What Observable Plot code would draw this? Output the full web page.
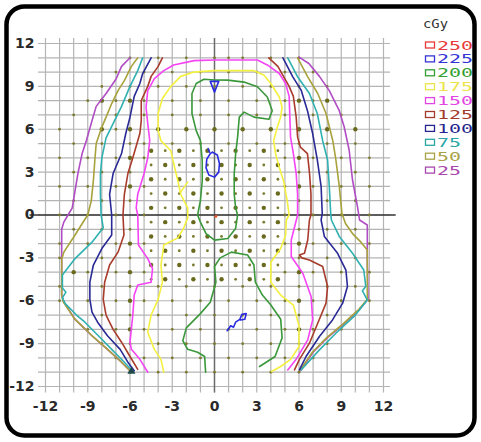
<!DOCTYPE html>
<html><head><meta charset="utf-8">
<script src="https://cdn.jsdelivr.net/npm/d3@7"></script>
<script src="https://cdn.jsdelivr.net/npm/@observablehq/plot@0.6"></script>
<style>body{margin:0;background:#fff}</style>
</head><body><div id="chart"></div>
<script>
// ---- tick labels / grid ----
const tickValues = [-12, -9, -6, -3, 0, 3, 6, 9, 12];
const gridValues = [-12,-11,-10,-9,-8,-7,-6,-5,-4,-3,-2,-1,0,1,2,3,4,5,6,7,8,9,10,11,12];

// ---- legend ----
const legendTitle = "cGy";
const levels = [250, 225, 200, 175, 150, 125, 100, 75, 50, 25];
const legendColors = ["#e83a3a","#3434d4","#34a034","#ece44a","#e444e4","#a33a2c","#26268e","#2aa6a6","#a8a246","#a848ac"];
const lineColors   = {250:"#f05020",225:"#2a2ae0",200:"#3a983a",175:"#f4f040",150:"#f444f4",125:"#a83c2c",100:"#2a2a96",75:"#30b0b0",50:"#a8a23c",25:"#b04cc4"};

// ---- isodose contours (x, y in cm) ----
const contour25 = [
  [[-6.0,11.0],[-6.6,10.4],[-7.0,9.5],[-7.7,8.5],[-8.4,7.6],[-8.7,6.6],[-9.1,5.2],[-9.4,4.3],[-9.7,2.9],[-9.9,1.7],[-10.1,0.5],[-10.4,0],[-10.7,-0.5],[-10.85,-1.0],[-10.85,-2.4],[-10.85,-4.0],[-10.85,-5.6],[-10.7,-6.1],[-9.9,-7.3],[-8.7,-8.45],[-7.6,-9.4],[-6.6,-10.3],[-5.9,-11.0]],
  [[6.0,11.05],[6.7,10.6],[7.45,9.7],[8.15,8.7],[8.86,7.3],[9.2,6.2],[9.56,4.55],[9.8,2.45],[10.15,0.6],[10.3,-0.35],[10.85,-0.7],[10.85,-3.0],[10.9,-5.9],[10.3,-6.6],[9.2,-7.6],[8.0,-8.6],[7.0,-9.6],[6.1,-10.9]]
];
const contour50 = [
  [[-5.45,11.0],[-5.9,10.4],[-6.4,9.4],[-6.85,8.7],[-7.3,7.8],[-7.7,6.85],[-8.0,6.15],[-8.4,5.0],[-8.5,3.8],[-8.6,2.4],[-8.75,1.0],[-9.0,0],[-9.2,-0.3],[-9.9,-1.4],[-10.7,-2.6],[-10.85,-3.1],[-10.85,-5.6],[-10.75,-6.05],[-9.95,-7.25],[-8.75,-8.4],[-7.65,-9.35],[-6.65,-10.25],[-5.95,-10.95]],
  [[5.9,11.0],[6.62,9.67],[7.33,8.5],[7.92,7.1],[8.4,5.2],[8.62,3.85],[8.86,2.0],[9.05,0.1],[9.3,-0.6],[9.8,-1.3],[10.4,-1.9],[10.85,-2.45],[10.85,-4.0],[10.85,-5.9],[10.25,-6.6],[9.15,-7.6],[7.95,-8.6],[6.95,-9.6],[6.05,-10.9]]
];
const contour75 = [
  [[-5.1,11.0],[-5.45,10.1],[-6.0,9.0],[-6.6,7.6],[-7.2,6.4],[-7.7,5.4],[-8.0,4.0],[-8.1,2.9],[-8.1,1.45],[-8.05,0],[-7.9,-0.9],[-8.7,-1.9],[-9.9,-3.05],[-10.8,-4.2],[-10.8,-5.1],[-10.55,-5.4],[-10.8,-5.8],[-10.6,-6.2],[-9.8,-7.0],[-9.2,-7.5],[-8.3,-8.4],[-7.3,-9.4],[-6.4,-10.3],[-5.8,-10.95]],
  [[5.2,11.0],[5.9,9.67],[6.74,8.5],[7.3,7.1],[7.68,5.2],[8.03,3.85],[8.15,2.0],[8.25,0.1],[8.3,-0.35],[8.86,-1.5],[9.8,-2.68],[10.6,-3.85],[10.74,-5.0],[10.5,-5.3],[10.85,-5.95],[10.0,-7.0],[8.62,-8.27],[7.45,-9.44],[6.15,-10.84]]
];
const contour100 = [
  [[-4.5,11.0],[-5.1,9.9],[-5.3,9.2],[-5.7,8.3],[-6.0,6.85],[-6.3,5.7],[-6.6,4.3],[-7.2,2.9],[-7.45,1.45],[-7.3,0],[-7.3,-1.4],[-8.0,-2.35],[-8.6,-3.5],[-8.85,-4.7],[-8.85,-5.9],[-8.7,-6.8],[-8.3,-7.5],[-7.6,-8.45],[-6.7,-9.4],[-6.15,-10.3],[-5.7,-10.9]],
  [[4.86,11.0],[5.56,9.67],[6.15,8.74],[6.6,7.3],[6.97,5.7],[7.3,3.85],[7.57,2.0],[7.65,0.1],[7.57,-0.35],[7.8,-1.5],[8.74,-2.68],[9.33,-3.85],[9.44,-5.0],[9.1,-6.17],[8.38,-7.34],[7.45,-8.5],[6.5,-9.9],[6.03,-10.84]]
];
const contour125 = [
  [[-3.7,11.0],[-4.0,10.4],[-4.5,9.7],[-4.74,9.0],[-5.2,8.0],[-5.2,6.6],[-5.3,5.7],[-5.8,4.0],[-6.15,2.9],[-6.4,1.45],[-6.5,0],[-6.43,-1.4],[-6.85,-2.6],[-7.45,-3.5],[-7.8,-4.7],[-7.9,-5.9],[-7.7,-7.0],[-7.2,-8.0],[-6.6,-8.9],[-6.0,-9.9],[-5.45,-10.8]],
  [[3.85,11.0],[4.5,10.4],[4.9,9.7],[5.3,9.0],[5.6,8.3],[5.8,6.85],[5.9,5.45],[6.1,4.75],[6.6,4.3],[6.75,2.9],[6.85,1.45],[6.85,0],[6.74,-0.35],[6.62,-1.75],[6.39,-2.68],[6.03,-2.8],[6.2,-3.0],[6.74,-3.15],[7.68,-3.6],[8.03,-5.0],[7.92,-6.17],[7.33,-7.57],[6.74,-8.97],[6.03,-10.1],[5.68,-10.84]]
];
const contour150 = [
  [[-4.74,-11.0],[-5.3,-10.1],[-5.9,-9.4],[-6.0,-8.9],[-5.8,-7.0],[-5.7,-5.6],[-5.45,-4.9],[-4.5,-4.7],[-4.4,-3.75],[-4.74,-3.05],[-5.4,-2.1],[-5.45,0],[-5.56,0.5],[-5.45,1.45],[-5.0,2.9],[-4.74,4.0],[-4.6,5.2],[-4.74,6.4],[-4.86,7.55],[-4.74,8.7],[-4.27,9.55],[-3.6,10.1],[-2.9,10.5],[-1.45,10.8],[0,10.85],[3.05,10.85],[3.75,10.5],[4.6,9.9],[5.05,9.2],[5.3,8.3],[5.35,6.85],[5.4,5.45],[5.6,4.3],[5.8,2.9],[5.9,1.45],[5.9,0],[5.45,-1.75],[5.45,-2.9],[6.27,-4.08],[6.86,-5.7],[6.97,-7.34],[6.62,-8.74],[5.8,-10.1],[5.2,-10.84]]
];
const contour175 = [
  [[-3.6,-11.0],[-3.8,-10.1],[-4.27,-9.4],[-4.74,-8.2],[-4.5,-7.0],[-4.0,-5.9],[-3.7,-4.7],[-3.8,-3.5],[-3.6,-2.1],[-2.6,-1.6],[-2.2,-0.94],[-1.9,-0.2],[-1.9,0.5],[-2.4,1.45],[-2.6,2.4],[-2.9,3.6],[-3.1,4.5],[-3.8,5.2],[-4.0,5.9],[-4.0,7.1],[-3.7,8.15],[-3.1,9.0],[-2.4,9.7],[-1.45,10.0],[0,10.1],[2.8,10.1],[3.5,9.8],[4.0,9.2],[4.6,8.26],[4.8,7.55],[4.7,6.85],[4.46,6.15],[4.2,5.2],[4.34,4.27],[4.6,3.33],[4.9,2.4],[5.16,1.0],[5.3,0],[5.1,-0.35],[5.05,-1.4],[4.7,-2.35],[4.0,-3.3],[4.0,-4.7],[4.7,-5.6],[5.6,-6.3],[6.0,-7.75],[6.0,-9.2],[5.4,-10.1],[4.7,-10.6],[4.05,-10.95]],
  [[-1.9,2.3],[-2.4,1.6]]
];
const contour200 = [
  [[-1.2,0],[-1.0,1.0],[-0.87,2.4],[-0.87,3.8],[-1.0,5.2],[-1.3,5.9],[-1.6,7.1],[-1.6,8.5],[-1.3,9.2],[-0.75,9.5],[0,9.45],[0.94,9.44],[2.1,9.3],[3.05,8.97],[3.75,8.26],[4.1,7.3],[3.87,6.7],[2.8,6.85],[2.1,7.2],[1.76,6.85],[1.64,5.45],[1.5,4.27],[1.4,2.86],[1.4,1.45],[1.5,0.5],[1.64,0],[1.5,-0.94],[0.94,-1.64],[0,-1.76],[-0.6,-1.3],[-1.0,-0.5],[-1.2,0]],
  [[-0.63,-11.0],[-0.7,-9.9],[-1.2,-9.6],[-1.9,-9.4],[-2.25,-8.8],[-2.0,-7.9],[-1.0,-6.9],[-0.3,-6.1],[0.1,-4.7],[0,-3.6],[0.4,-3.0],[1.2,-2.6],[2.35,-2.8],[2.8,-3.5],[2.9,-4.7],[3.4,-5.6],[4.0,-6.3],[4.7,-7.3],[4.8,-8.6],[4.3,-9.9],[3.2,-10.6]]
];
const contour225 = [
  [[-0.15,4.4],[0.2,4.2],[0.35,3.6],[0.3,3.0],[0.0,2.65],[-0.4,2.8],[-0.6,3.3],[-0.55,3.9],[-0.3,4.3],[-0.15,4.4]],
  [[-0.45,4.65],[-0.35,4.4]],
  [[-0.3,9.35],[0.3,9.35],[0.0,8.6],[-0.3,9.35]],
  [[0.9,-8.1],[1.15,-7.75],[1.35,-7.85],[1.5,-7.5],[1.8,-7.3],[1.95,-6.95],[2.25,-6.9],[2.15,-7.3],[1.85,-7.35]]
];
const contour250 = [[0.1,-0.1]];
const contours = {25:contour25,50:contour50,75:contour75,100:contour100,125:contour125,150:contour150,175:contour175,200:contour200,225:contour225};

// ---- measurement points ----
const denseX = [-4.5,-3.5,-2.5,-1.5,-0.5,0.5,1.5,2.5,3.5,4.5];
const denseY = [4.5,3.5,2.5,1.5,0.5,-0.5,-1.5,-2.5,-3.5,-4.5];
const sparseRows = [
  {y:11, xs:[-6,-4,-2,0,1,2,4,6]},
  {y:10, xs:[-7,-5,-3,-1,1,3,5,7]},
  {y:9,  xs:[-8,-6,-4,-2,0,2,4,6,8]},
  {y:8,  xs:[-9,-8,-7,-6,-5,-3,-1,1,3,5,6,7,8]},
  {y:7,  xs:[-10,-7,-5,-3,-1,1,3,5,7,9]},
  {y:6,  xs:[-11,-8,-7,-6,-4,-2,0,2,4,6,8,10]},
  {y:5,  xs:[-10,-8,-6,-5,-3,-1,1,3,5,6,8,10]},
  {y:4,  xs:[-11,-9,-7,-6,-5,5,6,7,9,11]},
  {y:3,  xs:[-10,-8,-6,6,8,10]},
  {y:2,  xs:[-11,-9,-7,-6,-5,5,6,7,9,11]},
  {y:1,  xs:[-10,-8,-6,6,8,10]},
  {y:0,  xs:[-11,-9,-7,-5,5,7,9,11]},
  {y:-1, xs:[-10,-8,-6,6,8,10]},
  {y:-2, xs:[-11,-9,-7,-6,-5,5,6,7,9,11]},
  {y:-3, xs:[-11,-8,-6,6,8,10]},
  {y:-4, xs:[-10,-9,-7,-6,-5,5,6,7,9,11]},
  {y:-5, xs:[-11,-8,-6,-4,-2,0,2,4,6,8,10]},
  {y:-6, xs:[-11,-9,-7,-6,-5,-3,-1,1,3,5,6,7,9,11]},
  {y:-7, xs:[-8,-6,-4,-2,0,2,4,6,8]},
  {y:-8, xs:[-9,-7,-6,-5,-3,-1,1,3,5,6,7,9]},
  {y:-9, xs:[-8,-6,-4,-2,0,2,4,6,8]},
  {y:-10,xs:[-7,-5,-3,-1,1,3,5,7]},
  {y:-11,xs:[-6,-4,-2,0,2,4,6]}
];
const cornerMarker = [[-5.9,-10.95]];

// ---- build tables ----
const lineRows = [];
for (const lv of Object.keys(contours)) {
  contours[lv].forEach((path, i) => path.forEach(([x, y]) => lineRows.push({level: +lv, id: lv + "-" + i, x, y})));
}
const densePts = denseY.flatMap((y, j) => denseX.map((x, i) => ({x, y, big: (i + j) % 2 === 0})));
const sparsePts = sparseRows.flatMap(r => r.xs.map(x => ({x, y: r.y, big: x % 2 === 0 && r.y % 2 === 0})));
const allPts = densePts.concat(sparsePts);

const font = "DejaVu Sans, Verdana, sans-serif";
const lineMarks = Object.keys(contours).map(lv =>
  Plot.line(lineRows.filter(d => d.level === +lv), {x: "x", y: "y", z: "id", stroke: lineColors[lv], strokeWidth: 1.6, curve: "linear"}));

const chart = Plot.plot({
  width: 481, height: 442,
  marginLeft: 45, marginRight: 98, marginTop: 43, marginBottom: 56,
  x: {domain: [-12, 12], axis: null},
  y: {domain: [-12, 12], axis: null},
  style: {background: "#fff", fontFamily: font},
  marks: [
    Plot.ruleX(gridValues, {y1: -12.45, y2: 12.35, stroke: "#b4b4b4", strokeWidth: 1.2}),
    Plot.ruleY(gridValues, {x1: -12.5, x2: 12.5, stroke: "#b4b4b4", strokeWidth: 1.2}),
    Plot.ruleX([0], {y1: -12.45, y2: 12.35, stroke: "#6a6a6a", strokeWidth: 1.4}),
    Plot.ruleY([0], {x1: -13.1, x2: 12.9, stroke: "#333", strokeWidth: 1.6}),
    Plot.dot(allPts.filter(d => !d.big), {x: "x", y: "y", r: 1.4, fill: "#7a7a30"}),
    Plot.dot(allPts.filter(d => d.big), {x: "x", y: "y", r: 2.2, fill: "#6a6a1e"}),
    ...lineMarks,
    Plot.dot(contour250, {x: d => d[0], y: d => d[1], r: 1.4, fill: lineColors[250]}),
    Plot.dot(cornerMarker, {x: d => d[0], y: d => d[1], r: 3, symbol: "triangle", fill: "#1f4a4a"}),
    Plot.text(tickValues, {x: d => d, frameAnchor: "bottom", dy: 24, text: d => String(d), fontSize: 14, fontWeight: "bold", fill: "#2a2a2a"}),
    Plot.text(tickValues, {y: d => d, frameAnchor: "left", dx: -11, textAnchor: "end", text: d => String(d), fontSize: 14, fontWeight: "bold", fill: "#2a2a2a"})
  ]
});

// legend + rounded frame
const svg = d3.select(chart);
const lg = svg.append("g").attr("font-family", "DejaVu Sans Mono, monospace").attr("text-anchor", "start");
lg.append("text").attr("x", 423).attr("y", 28).attr("font-size", 12).attr("fill", "#333")
  .attr("textLength", 25).attr("lengthAdjust", "spacingAndGlyphs").text(legendTitle);
levels.forEach((lv, i) => {
  const cy = 45 + i * 13.9;
  lg.append("rect").attr("x", 425.5).attr("y", cy - 3).attr("width", 9).attr("height", 6)
    .attr("fill", "none").attr("stroke", legendColors[i]).attr("stroke-width", 1.3);
  const s = String(lv);
  lg.append("text").attr("x", 437).attr("y", cy + 4.5).attr("font-size", 12.5).attr("fill", legendColors[i])
    .attr("textLength", s.length * 12).attr("lengthAdjust", "spacingAndGlyphs").text(s);
});
svg.append("rect").attr("x", 6.5).attr("y", 6.5).attr("width", 468).attr("height", 429)
  .attr("rx", 18).attr("fill", "none").attr("stroke", "#000").attr("stroke-width", 4.5);

document.getElementById("chart").appendChild(chart);
</script></body></html>
